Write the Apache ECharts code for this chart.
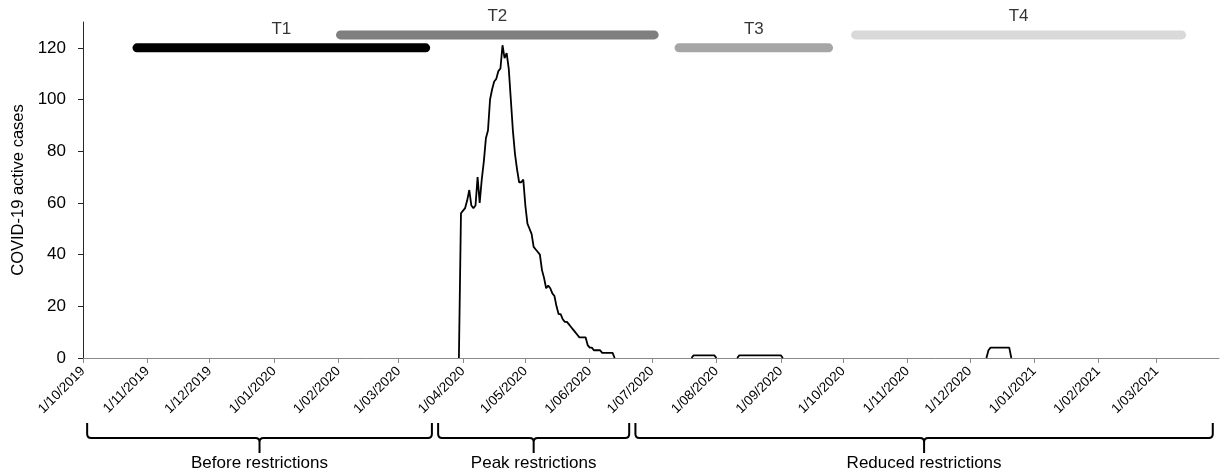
<!DOCTYPE html>
<html><head><meta charset="utf-8">
<script src="https://cdn.jsdelivr.net/npm/echarts@6/dist/echarts.min.js"></script>
<style>html,body{margin:0;padding:0;background:#fff}#c{width:1221px;height:474px}</style>
</head><body><div id="c"></div>
<script>
// ---- data ----
const axisStart = '2019-10-01';
const axisEnd = '2021-03-31';
const monthTicks = ['2019-10-01','2019-11-01','2019-12-01','2020-01-01','2020-02-01','2020-03-01',
  '2020-04-01','2020-05-01','2020-06-01','2020-07-01','2020-08-01','2020-09-01','2020-10-01',
  '2020-11-01','2020-12-01','2021-01-01','2021-02-01','2021-03-01'];
const yTicks = [0, 20, 40, 60, 80, 100, 120];

// daily active cases, main wave starting 30 Mar 2020
const waveStart = '2020-03-30';
const waveValues = [0, 56, 57, 58, 61, 65, 59, 58, 59, 70, 60, 69, 76, 85, 88, 100, 104, 107, 108, 111, 112,
  121, 116, 118, 112, 100, 88, 79, 73, 68, 68, 69, 59, 52, 50, 48, 43, 42, 41, 40, 34, 31, 27, 28, 27,
  25, 24, 20, 17, 17, 15, 14, 14, 13, 12, 11, 10, 9, 8, 8, 8, 8, 5, 4, 4, 3, 3, 3, 3, 2, 2, 2, 2, 2, 2, 0];
const bump1Start = '2020-07-20';
const bump1Values = [0, 1, 1, 1, 1, 1, 1, 1, 1, 1, 1, 1, 0];
const bump2Start = '2020-08-11';
const bump2Values = [0, 1, 1, 1, 1, 1, 1, 1, 1, 1, 1, 1, 1, 1, 1, 1, 1, 1, 1, 1, 1, 1, 0];
const bump3Start = '2020-12-09';
const bump3Values = [0, 3, 4, 4, 4, 4, 4, 4, 4, 4, 4, 4, 0];

// study periods
const periodNames = ['T1', 'T2', 'T3', 'T4'];
const periodStart = ['2019-10-27', '2020-02-02', '2020-07-14', '2020-10-07'];
const periodEnd = ['2020-03-14', '2020-07-02', '2020-09-24', '2021-03-13'];
const periodLevel = [120, 125, 120, 125];

// restriction phases
const phaseNames = ['Before restrictions', 'Peak restrictions', 'Reduced restrictions'];
const phaseStart = ['2019-10-03', '2020-03-20', '2020-06-23'];
const phaseEnd = ['2020-03-17', '2020-06-20', '2021-03-28'];

// ---- styles ----
const periodColors = ['#000000', '#7f7f7f', '#a6a6a6', '#d9d9d9'];
const FONT = '"Liberation Sans", Arial, sans-serif';

function parseDate(s) { const p = s.split('-').map(Number); return new Date(p[0], p[1] - 1, p[2]).getTime(); }
function seriesFrom(start, values) {
  const p = start.split('-').map(Number);
  return values.map((v, i) => [new Date(p[0], p[1] - 1, p[2] + i).getTime(), v]);
}
const pad = n => (n < 10 ? '0' : '') + n;
const monthTs = monthTicks.map(parseDate);

const caseSeries = [[waveStart, waveValues], [bump1Start, bump1Values], [bump2Start, bump2Values], [bump3Start, bump3Values]]
  .map(([s, v]) => ({
    type: 'line', data: seriesFrom(s, v), symbol: 'none', silent: true, z: 3,
    lineStyle: { color: '#000', width: 1.8 }
  }));

const periodSeries = periodNames.map((n, i) => ({
  type: 'line', symbol: 'none', silent: true, z: 2,
  data: [[parseDate(periodStart[i]), periodLevel[i]], [parseDate(periodEnd[i]), periodLevel[i]]],
  lineStyle: { color: periodColors[i], width: 9, cap: 'round' }
}));

const periodLabelSeries = {
  type: 'scatter', symbolSize: 0, silent: true,
  data: periodNames.map((n, i) => [(parseDate(periodStart[i]) + parseDate(periodEnd[i])) / 2, periodLevel[i]]),
  label: {
    show: true, position: 'top', distance: 10, color: '#000', fontSize: 17, fontFamily: FONT,
    formatter: p => periodNames[p.dataIndex]
  }
};

const braceSeries = {
  type: 'custom', silent: true, clip: false,
  data: phaseNames.map((n, i) => [parseDate(phaseStart[i]), parseDate(phaseEnd[i]), 0]),
  encode: { x: [0, 1], y: 2 },
  renderItem: (params, api) => {
    const x1 = api.coord([api.value(0), 0])[0];
    const x2 = api.coord([api.value(1), 0])[0];
    const base = params.coordSys.y + params.coordSys.height;
    const top = base + 65, hy = base + 80, tip = base + 95, r = 4;
    const xm = (x1 + x2) / 2;
    const d = `M${x1},${top} L${x1},${hy - r} Q${x1},${hy} ${x1 + r},${hy} L${xm - r},${hy} Q${xm},${hy} ${xm},${hy + r} L${xm},${tip} ` +
      `M${xm},${hy + r} Q${xm},${hy} ${xm + r},${hy} L${x2 - r},${hy} Q${x2},${hy} ${x2},${hy - r} L${x2},${top}`;
    return {
      type: 'group', children: [
        { type: 'path', shape: { pathData: d }, style: { fill: 'none', stroke: '#000', lineWidth: 2 } },
        { type: 'text', x: xm, y: base + 105, style: { text: phaseNames[params.dataIndex], fill: '#000', font: '17px ' + FONT, align: 'center', verticalAlign: 'middle' } }
      ]
    };
  }
};

const chart = echarts.init(document.getElementById('c'), null, { renderer: 'canvas' });
chart.setOption({
  animation: false,
  backgroundColor: '#fff',
  grid: { left: 83, right: 2, top: 22, bottom: 116, containLabel: false },
  xAxis: {
    type: 'value', min: parseDate(axisStart), max: parseDate(axisEnd),
    axisLine: { show: true, lineStyle: { color: '#898989', width: 1 } },
    axisTick: { show: true, length: 5, customValues: monthTs, lineStyle: { color: '#898989' } },
    axisLabel: {
      customValues: monthTs, rotate: 45, margin: 11, fontSize: 13.5, color: '#000', fontFamily: FONT,
      formatter: v => { const d = new Date(v); return '1/' + pad(d.getMonth() + 1) + '/' + d.getFullYear(); }
    },
    splitLine: { show: false }
  },
  yAxis: {
    type: 'value', min: 0, max: 130,
    name: 'COVID-19 active cases', nameLocation: 'middle', nameGap: 55,
    nameTextStyle: { fontSize: 16.5, color: '#000', fontFamily: FONT },
    axisLine: { show: true, lineStyle: { color: '#262626', width: 1 } },
    axisTick: { show: true, length: 5, customValues: yTicks, lineStyle: { color: '#262626' } },
    axisLabel: { customValues: yTicks, margin: 17, fontSize: 17, color: '#000', fontFamily: FONT },
    splitLine: { show: false }
  },
  series: [...periodSeries, ...caseSeries, periodLabelSeries, braceSeries]
});
</script>
</body></html>
